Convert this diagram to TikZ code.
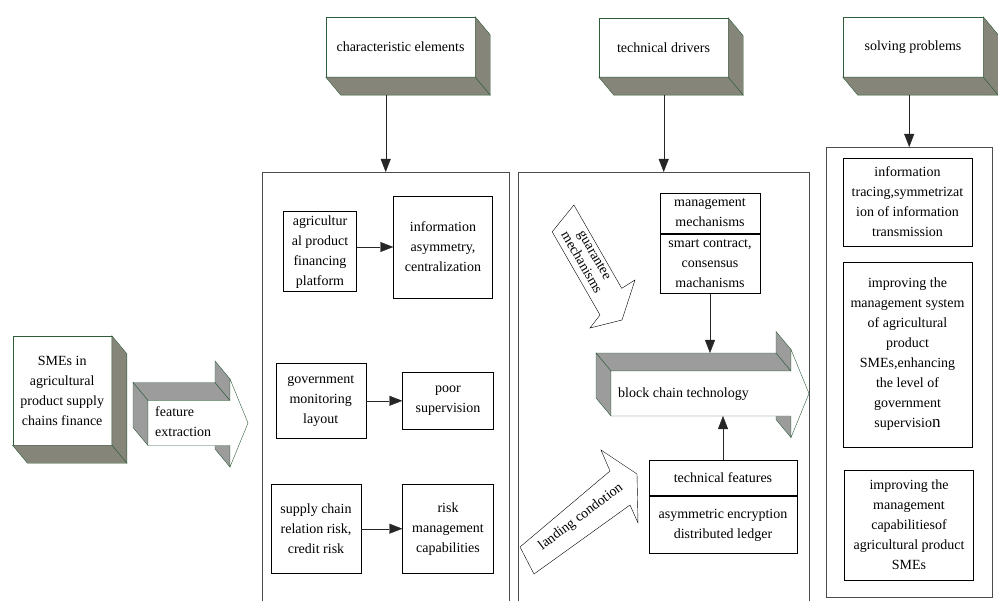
\documentclass[tikz,border=0pt]{standalone}
\usepackage{fontspec}
\setmainfont{Liberation Serif}
\usetikzlibrary{arrows.meta,positioning}
\definecolor{edgegreen}{HTML}{2F5D3A}
\definecolor{sidegray}{HTML}{85857A}
\definecolor{arrowgray}{HTML}{9C9C9C}

\tikzset{
  every node/.style={font=\fontsize{14}{20}\selectfont},
  cube/.style={draw=edgegreen, fill=white, align=center, inner sep=0pt},
  cubeside/.style={draw=edgegreen, fill=sidegray},
  card/.style={draw, fill=white, align=center, inner sep=0pt},
  panel/.style={draw=black!70, inner sep=0pt, anchor=north west},
  hollow/.style={draw, fill=white},
  link/.style={-{Triangle[length=13pt,width=10pt]}, draw=black!85},
}

% grey faces of a cube node, pushed down and right
\newcommand{\cubeshade}[1]{%
  \draw[cubeside] (#1.north east) -- ++(15,18) -- ([shift={(15pt,-18pt)}]#1.south east) -- (#1.south east) -- cycle;
  \draw[cubeside] (#1.south west) -- ++(15,18) -- ([shift={(15pt,-18pt)}]#1.south east) -- (#1.south east) -- cycle;
}
% solid arrow: tail x, head x, middle y
\newcommand{\solidarrow}[3]{%
  \draw[cubeside, fill=arrowgray] (#1,#3-22.5) -- ++(-15,-18) -- (#2-15,#3-40.5) -- (#2,#3-22.5) -- cycle;
  \draw[cubeside, fill=arrowgray] (#1,#3-22.5) -- ++(-15,-18) -- ++(0,45) -- (#1,#3+22.5) -- cycle;
  \draw[cubeside, fill=arrowgray] (#2,#3-22.5) -- ++(-15,-18) -- ++(0,-21.5) -- (#2,#3-44) -- cycle;
  \draw[cubeside, fill=arrowgray] (#2,#3+22.5) -- ++(-15,-18) -- ++(0,21.5) -- (#2,#3+44) -- cycle;
  \draw[draw=edgegreen, fill=white] (#1,#3-22.5) -- (#2,#3-22.5) -- (#2,#3-44) -- (#2+18,#3)
    -- (#2,#3+44) -- (#2,#3+22.5) -- (#1,#3+22.5) -- cycle;
}

\begin{document}
\begin{tikzpicture}[x=1pt, y=-1pt]
\useasboundingbox (0,0) rectangle (998,601);

% panels
\node[panel, minimum width=247pt, minimum height=440pt] (leftpanel) at (262,172) {};
\node[panel, minimum width=291pt, minimum height=440pt] (midpanel) at (518,172) {};
\node[panel, minimum width=166pt, minimum height=450pt] (rightpanel) at (826,147) {};

% headers
\node[cube, minimum width=149pt, minimum height=60pt] (charel) at (400.5,47) {characteristic elements};
\node[cube, minimum width=129pt, minimum height=59pt] (techdr) at (663.5,47.5) {technical drivers};
\node[cube, minimum width=140pt, minimum height=60pt] (solve) at (913,47) {solving problems};
\cubeshade{charel}
\cubeshade{techdr}
\cubeshade{solve}
\coordinate (charfoot) at ([yshift=-18pt]charel.south);
\coordinate (techfoot) at ([yshift=-18pt]techdr.south);
\coordinate (solvefoot) at ([yshift=-18pt]solve.south);
\draw[link] (charfoot -| leftpanel.north) -- (leftpanel.north);
\draw[link] (techfoot -| midpanel.north) -- (midpanel.north);
\draw[link] (solvefoot -| rightpanel.north) -- (rightpanel.north);

% SMEs and feature extraction
\node[cube, minimum width=99pt, minimum height=109pt] (smes) at (62.2,390.5) {SMEs in\\agricultural\\product supply\\chains finance};
\cubeshade{smes}
\solidarrow{148}{230}{423}
\node[anchor=west, align=left, inner sep=0pt] (feature) at (155,422) {feature\\extraction};

% left panel
\node[card, minimum width=73pt, minimum height=80pt] (platform) at (320,251.7) {agricultur\\al product\\financing\\platform};
\node[card, minimum width=99pt, minimum height=102pt] (asym) at (443,247) {information\\asymmetry,\\centralization};
\node[card, minimum width=90pt, minimum height=75pt] (gov) at (320.7,400.8) {government\\monitoring\\layout};
\node[card, minimum width=91pt, minimum height=57pt] (poor) at (448,400.8) {poor\\supervision};
\node[card, minimum width=90pt, minimum height=89pt] (supply) at (316,528.7) {supply chain\\relation risk,\\credit risk};
\node[card, minimum width=91pt, minimum height=89pt] (risk) at (448,528.7) {risk\\management\\capabilities};
\draw[link] (platform.east |- asym.west) -- (asym.west);
\draw[link] (gov) -- (poor);
\draw[link] (supply) -- (risk);

% middle panel
\draw[hollow] (552.2,231.8) -- (600,315) -- (590,328) -- (622,320) -- (635,280) -- (621.7,288.3) -- (573.9,205) -- cycle;
\node[rotate=-60, align=center, font=\fontsize{14}{15}\selectfont] (guarantee) at (588,259) {guarantee\\mechanisms};
\draw[hollow] (520,547) -- (610,471) -- (601,450) -- (637,474) -- (638,523) -- (630,505) -- (534,574) -- cycle;
\node[rotate=37] (landing) at (581,517) {landing condotion};

\node[card, minimum width=100pt, minimum height=40pt] (mgmt) at (710,213) {management\\mechanisms};
\node[card, minimum width=100pt, minimum height=59pt, below=1.2pt of mgmt] (smart) {smart contract,\\consensus\\machanisms};
\solidarrow{611}{791}{393.5}
\node[anchor=west, inner sep=0pt] (bct) at (618,394) {block chain technology};
\coordinate (bcttop) at (710,353);
\coordinate (bctbottom) at (723,416);
\node[card, minimum width=148pt, minimum height=35pt] (techfeat) at (723,477.5) {technical features};
\node[card, minimum width=148pt, minimum height=57pt, below=1.2pt of techfeat] (encrypt) {asymmetric encryption\\distributed ledger};
\draw[link] (smart.south) -- (smart.south |- bcttop);
\draw[link] (techfeat.north) -- (techfeat.north |- bctbottom);

% right panel
\node[card, minimum width=129pt, minimum height=88pt] (tracing) at (907.5,202) {information\\tracing,symmetrizat\\ion of information\\transmission};
\node[card, minimum width=129pt, minimum height=185pt] (improve) at (907.5,354.5) {improving the\\management system\\of agricultural\\product\\SMEs,enhancing\\the level of\\government\\supervisio{\fontsize{17}{17}\selectfont n}};
\node[card, minimum width=129pt, minimum height=110pt] (capab) at (909,525) {improving the\\management\\capabilitiesof\\agricultural product\\SMEs};
\end{tikzpicture}
\end{document}
